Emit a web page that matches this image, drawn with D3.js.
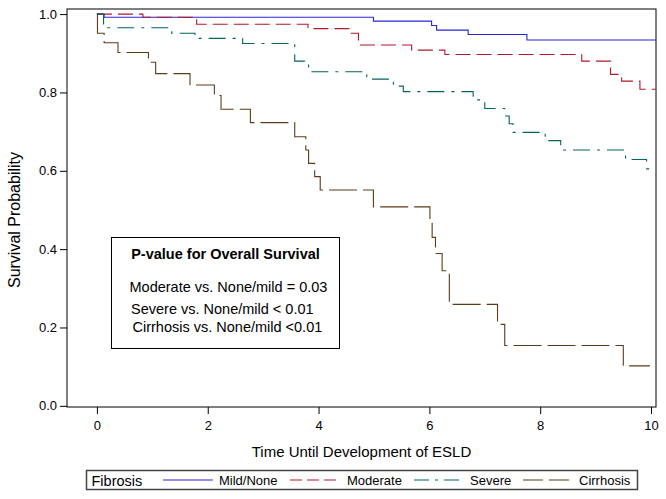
<!DOCTYPE html>
<html><head><meta charset="utf-8">
<script src="https://cdn.jsdelivr.net/npm/d3@7"></script>
<style>
body{margin:0;background:#fff}
svg{display:block}
text{font-family:"Liberation Sans",Arial,Helvetica,sans-serif;fill:#000}
</style>
</head><body>
<svg id="chart" width="666" height="499"></svg>
<script>
// ---------- data ----------
const seriesNames = ["Mild/None", "Moderate", "Severe", "Cirrhosis"];

const mildTime = [0, 0.13, 4.99, 6.04, 6.13, 6.70, 7.76, 10.09];
const mildSurv = [1.0, 0.992, 0.982, 0.971, 0.959, 0.948, 0.934, 0.934];

const moderateTime = [0, 0.83, 1.80, 3.81, 4.57, 4.72, 5.68, 6.28, 8.75, 9.27, 9.47, 9.80, 10.09];
const moderateSurv = [1.0, 0.992, 0.974, 0.963, 0.951, 0.921, 0.908, 0.897, 0.880, 0.846, 0.829, 0.808, 0.808];

const severeTime = [0, 0.12, 1.35, 1.77, 2.63, 3.57, 3.82, 4.87, 5.35, 5.53, 6.79, 7.00, 7.36, 7.44, 7.51, 8.09, 8.37, 9.54, 9.92, 10.09];
const severeSurv = [1.0, 0.965, 0.951, 0.938, 0.925, 0.880, 0.853, 0.834, 0.816, 0.802, 0.781, 0.759, 0.740, 0.720, 0.698, 0.677, 0.653, 0.629, 0.605, 0.605];

const cirrhosisTime = [0, 0.01, 0.13, 0.38, 0.93, 1.06, 1.68, 2.12, 2.24, 2.77, 3.57, 3.77, 3.82, 3.93, 4.03, 4.99, 6.01, 6.05, 6.11, 6.23, 6.36, 7.23, 7.36, 9.50, 9.98];
const cirrhosisSurv = [1.0, 0.951, 0.927, 0.902, 0.877, 0.848, 0.819, 0.792, 0.757, 0.723, 0.687, 0.653, 0.619, 0.585, 0.551, 0.508, 0.470, 0.430, 0.389, 0.345, 0.259, 0.208, 0.154, 0.102, 0.102];

const xTicks = [0, 2, 4, 6, 8, 10];
const yTicks = [0.0, 0.2, 0.4, 0.6, 0.8, 1.0];

const xLabel = "Time Until Development of ESLD";
const yLabel = "Survival Probability";
const legendTitle = "Fibrosis";
const pvalueTitle = "P-value for Overall Survival";
const pvalueLines = [
  "Moderate vs. None/mild = 0.03",
  "Severe vs. None/mild < 0.01",
  "Cirrhosis vs. None/mild <0.01"
];

// ---------- styles ----------
const colors = ["#2A25D9", "#B2182B", "#01665E", "#5e3c17"];
const dashes = [null, "15,6", "17,7,3,7", "28,6"];

const series = [
  {time: mildTime, surv: mildSurv},
  {time: moderateTime, surv: moderateSurv},
  {time: severeTime, surv: severeSurv},
  {time: cirrhosisTime, surv: cirrhosisSurv}
].map((s, i) => ({name: seriesNames[i], pts: s.time.map((t, j) => [t, s.surv[j]])}));

// ---------- layout ----------
const L = 67, R = 656, T = 9, B = 407;
const svg = d3.select("#chart");

const x = d3.scaleLinear().domain([-0.54, 10.09]).range([L, R]);
const y = d3.scaleLinear().domain([-0.003, 1.013]).range([B, T]);

svg.append("defs").append("clipPath").attr("id", "plotclip")
  .append("rect").attr("x", L).attr("y", T).attr("width", R - L).attr("height", B - T);

// axes
const xAxis = svg.append("g").attr("transform", `translate(0,${B})`)
  .call(d3.axisBottom(x).tickValues(xTicks).tickFormat(d3.format("d")).tickSize(7).tickSizeOuter(0).tickPadding(7));
const yAxis = svg.append("g").attr("transform", `translate(${L},0)`)
  .call(d3.axisLeft(y).tickValues(yTicks).tickFormat(d3.format(".1f")).tickSize(7).tickSizeOuter(0).tickPadding(3));
[xAxis, yAxis].forEach(g => {
  g.select(".domain").remove();
  g.selectAll(".tick line").attr("stroke", "#000");
  g.selectAll(".tick text").attr("fill", "#000").style("font-size", "13px")
    .style("font-family", '"Liberation Sans",Arial,sans-serif');
});

// frame
svg.append("rect").attr("x", L).attr("y", T).attr("width", R - L).attr("height", B - T)
  .attr("fill", "none").attr("stroke", "#000").attr("stroke-width", 1);

// curves
const line = d3.line().x(d => x(d[0])).y(d => y(d[1])).curve(d3.curveStepAfter);
svg.append("g").attr("clip-path", "url(#plotclip)")
  .selectAll("path").data(series).join("path")
  .attr("d", d => line(d.pts))
  .attr("fill", "none")
  .attr("stroke", (d, i) => colors[i])
  .attr("stroke-width", 1.1)
  .attr("stroke-dasharray", (d, i) => dashes[i]);

// axis labels
svg.append("text").attr("x", (L + R) / 2).attr("y", 457).attr("text-anchor", "middle")
  .style("font-size", "15px").text(xLabel);
svg.append("text").attr("transform", `translate(20,220) rotate(-90)`)
  .attr("text-anchor", "middle").style("font-size", "16px").text(yLabel);

// p-value box
svg.append("rect").attr("x", 111.5).attr("y", 237.5).attr("width", 228).attr("height", 111)
  .attr("fill", "#fff").attr("stroke", "#000").attr("stroke-width", 1);
svg.append("text").attr("x", 225.5).attr("y", 259).attr("text-anchor", "middle")
  .style("font-size", "14.5px").style("font-weight", "bold").text(pvalueTitle);
const pvX = [129.5, 131, 132.5];
const pvY = [292, 313.5, 332];
svg.selectAll("text.pv").data(pvalueLines).join("text").attr("class", "pv")
  .attr("x", (d, i) => pvX[i]).attr("y", (d, i) => pvY[i])
  .style("font-size", "14.5px").text(d => d);

// legend
const lg = svg.append("g");
lg.append("rect").attr("x", 86.5).attr("y", 470.5).attr("width", 551).attr("height", 19)
  .attr("fill", "#fff").attr("stroke", "#444").attr("stroke-width", 1.5);
lg.append("text").attr("x", 91.5).attr("y", 485.5).style("font-size", "14.5px").text(legendTitle);
const lgLineX = [163, 290, 414, 523];
const lgLineW = [50, 46, 48, 47];
const lgTextX = [219, 347, 470, 579];
const lgDash = [null, "12,5", "15,6,3,6", "20,6"];
series.forEach((s, i) => {
  lg.append("line").attr("x1", lgLineX[i]).attr("x2", lgLineX[i] + lgLineW[i])
    .attr("y1", 480).attr("y2", 480)
    .attr("stroke", colors[i]).attr("stroke-width", 1.1).attr("stroke-dasharray", lgDash[i]);
  lg.append("text").attr("x", lgTextX[i]).attr("y", 484.7).style("font-size", "13px").text(s.name);
});
</script>
</body></html>
